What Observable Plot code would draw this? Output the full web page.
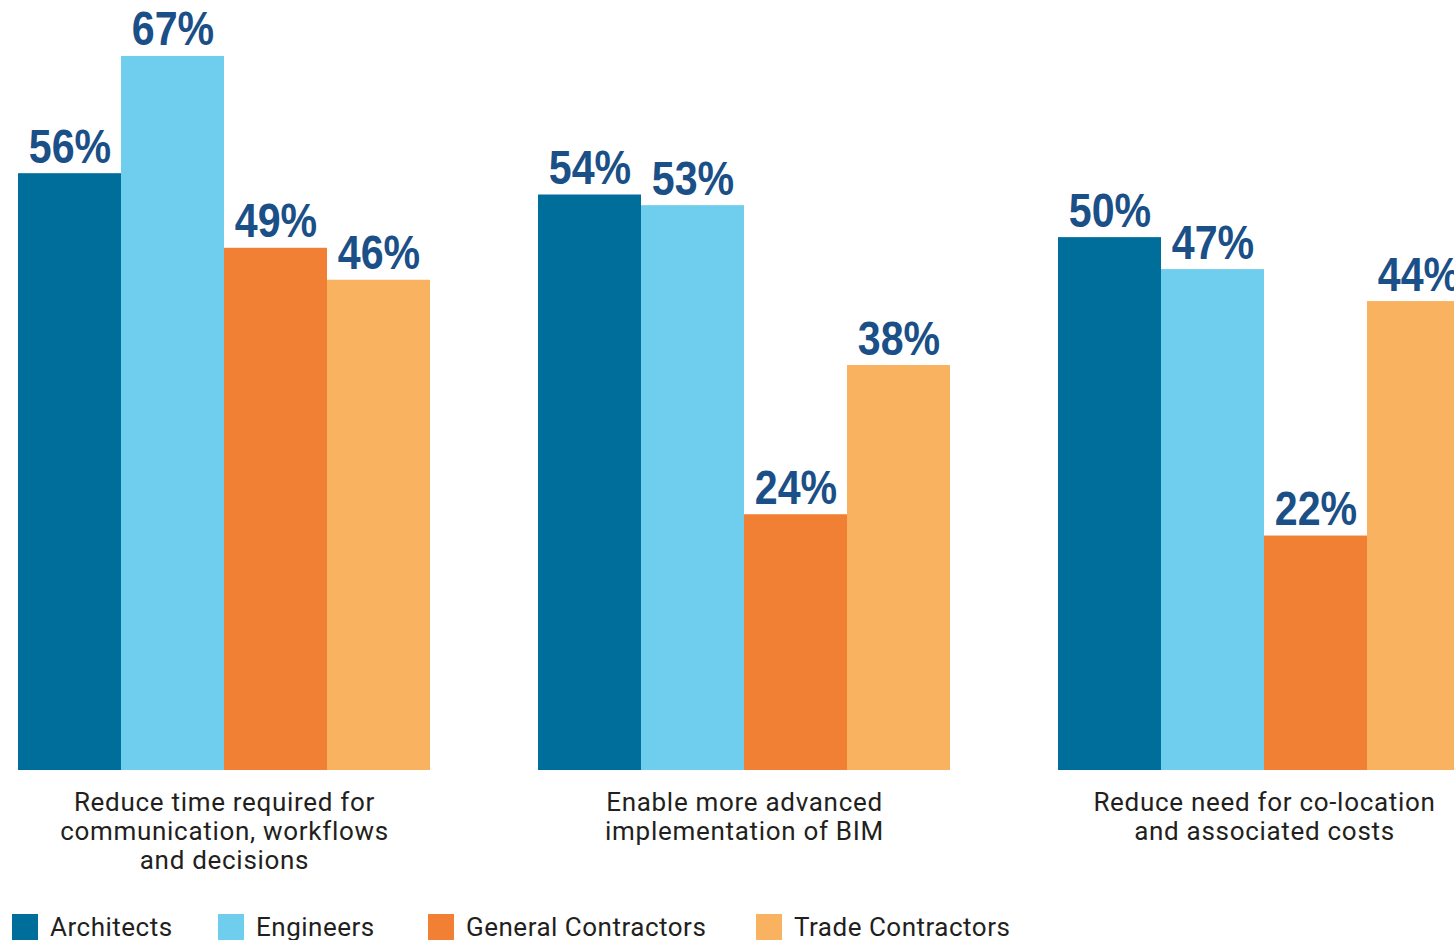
<!DOCTYPE html>
<html>
<head>
<meta charset="utf-8">
<script src="https://cdn.jsdelivr.net/npm/d3@7"></script>
<script src="https://cdn.jsdelivr.net/npm/@observablehq/plot@0.6"></script>
<style>
  html, body { margin: 0; padding: 0; background: #fff; overflow: hidden; }
  #chart svg { display: block; max-width: none !important; }
  #legend { position: relative; height: 45px;
    font-family: "Roboto", "Noto Sans", sans-serif; font-size: 26px; color: #231f20; letter-spacing: 0.5px; }
  .item { position: absolute; top: 17px; display: flex; align-items: center; white-space: nowrap; }
  .sw { width: 26px; height: 27px; margin-right: 12px; flex: none; }
</style>
</head>
<body>
<div id="chart"></div>
<div id="legend"></div>
<script>
const categories = [
  "Reduce time required for\ncommunication, workflows\nand decisions",
  "Enable more advanced\nimplementation of BIM",
  "Reduce need for co-location\nand associated costs"
];
const groups = ["Architects", "Engineers", "General Contractors", "Trade Contractors"];
const colors = ["#006e9b", "#6fcdee", "#f28034", "#f9b260"];
const architects = [56, 54, 50];
const engineers = [67, 53, 47];
const generalContractors = [49, 24, 22];
const tradeContractors = [46, 38, 44];

const series = [architects, engineers, generalContractors, tradeContractors];
const data = [];
categories.forEach((c, i) => {
  groups.forEach((g, j) => data.push({category: c, group: g, value: series[j][i]}));
});

const chart = Plot.plot({
  width: 1470,
  height: 895,
  marginLeft: 18,
  marginRight: 0,
  marginTop: 0,
  marginBottom: 125,
  fx: {domain: categories, paddingInner: 0.208, paddingOuter: 0, axis: null},
  x: {domain: groups, padding: 0, axis: null},
  y: {domain: [0, 72.25], axis: null},
  color: {domain: groups, range: colors},
  marks: [
    Plot.barY(data, {fx: "category", x: "group", y: "value", fill: "group"}),
    Plot.text(data, {
      fx: "category", x: "group", y: "value", text: d => d.value + "%",
      dy: -11, lineAnchor: "bottom", fill: "#1b4f87",
      fontSize: 49, fontWeight: "bold",
      fontFamily: "'Liberation Sans', Arial, sans-serif"
    }),
    Plot.text(categories, {
      fx: d => d, text: d => d, frameAnchor: "bottom", lineAnchor: "top",
      dy: 20, fontSize: 26, lineHeight: 1.115, fill: "#231f20",
      fontFamily: "Roboto, 'Noto Sans', sans-serif"
    })
  ]
});
document.getElementById("chart").appendChild(chart);

const texts = d3.select(chart).selectAll("text");
// condense the value labels horizontally
texts.filter(function() { return /%$/.test(this.textContent) && !this.querySelector("tspan"); })
  .each(function() {
    const b = this.getBBox();
    const cx = b.x + b.width / 2;
    const t = this.getAttribute("transform") || "";
    this.setAttribute("transform", `${t} translate(${cx},0) scale(0.84,1) translate(${-cx},0)`);
  });
// letter spacing for the category labels
texts.filter(function() { return !!this.querySelector("tspan"); })
  .style("letter-spacing", "0.7px");

const legend = document.getElementById("legend");
const lefts = [12, 218, 428, 756];
groups.forEach((g, i) => {
  const item = document.createElement("div");
  item.className = "item";
  item.style.left = lefts[i] + "px";
  const sw = document.createElement("div");
  sw.className = "sw";
  sw.style.background = colors[i];
  const t = document.createElement("span");
  t.textContent = g;
  item.appendChild(sw);
  item.appendChild(t);
  legend.appendChild(item);
});
</script>
</body>
</html>
